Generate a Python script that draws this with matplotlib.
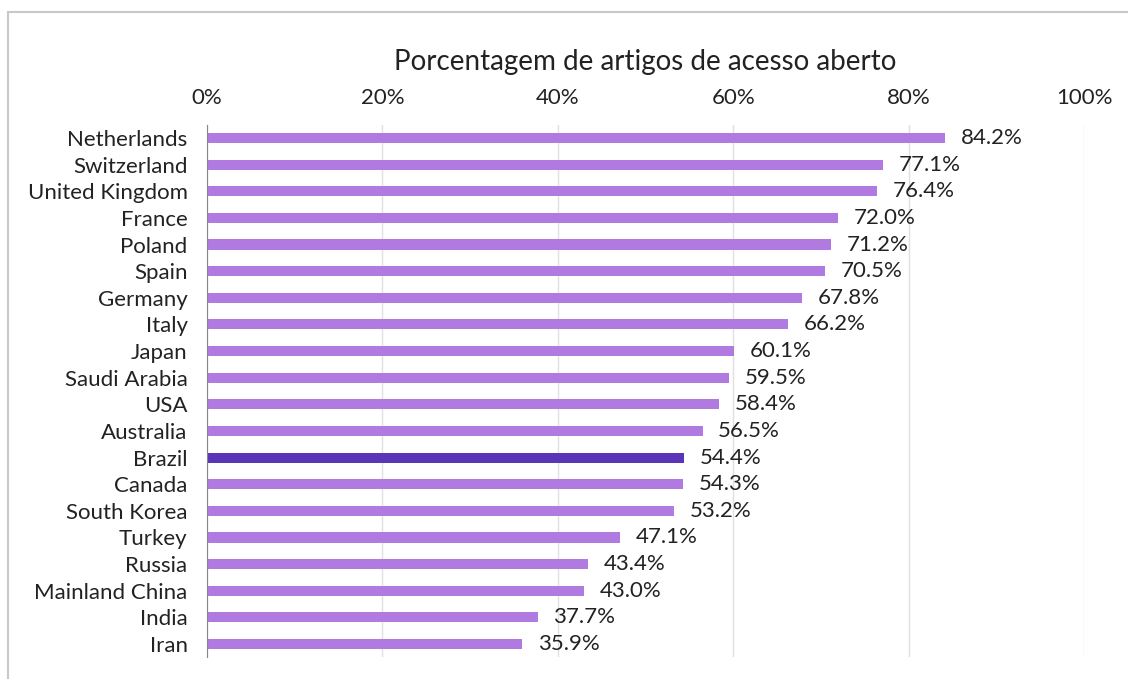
import matplotlib.pyplot as plt
from matplotlib.patches import Rectangle
from matplotlib.ticker import PercentFormatter

countries = ["Netherlands", "Switzerland", "United Kingdom", "France", "Poland",
             "Spain", "Germany", "Italy", "Japan", "Saudi Arabia", "USA",
             "Australia", "Brazil", "Canada", "South Korea", "Turkey", "Russia",
             "Mainland China", "India", "Iran"]
shares = [84.2, 77.1, 76.4, 72.0, 71.2, 70.5, 67.8, 66.2, 60.1, 59.5, 58.4,
          56.5, 54.4, 54.3, 53.2, 47.1, 43.4, 43.0, 37.7, 35.9]
highlight = "Brazil"

plt.rcParams['font.family'] = ['Lato', 'DejaVu Sans']

fig = plt.figure(figsize=(11.28, 6.79), dpi=100)
ax = fig.add_axes([207 / 1128, 1 - 657.3 / 679, 877 / 1128, 532.6 / 679])

# outer frame
fig.patches.append(Rectangle((8 / 1128, -0.1), 1.2, 1 - 12 / 679 + 0.1,
                             transform=fig.transFigure, fill=False,
                             edgecolor="#c8c8c8", linewidth=1.5))

colors = ["#5b35b8" if c == highlight else "#b07ae0" for c in countries]
ypos = range(len(countries))
ax.barh(ypos, shares, height=0.38, color=colors, zorder=3)

for y, v in zip(ypos, shares):
    ax.text(v + 1.8, y, f"{v:.1f}%", va="center", ha="left", fontsize=16,
            color="#222222")

ax.set_yticks(list(ypos))
ax.set_yticklabels(countries, fontsize=16, color="#222222")
ax.set_ylim(len(countries) - 0.5, -0.5)
ax.set_xlim(0, 100)
ax.set_xticks([0, 20, 40, 60, 80, 100])
ax.xaxis.set_major_formatter(PercentFormatter(decimals=0))
ax.xaxis.tick_top()
ax.tick_params(axis="x", length=0, labelsize=16, labelcolor="#222222", pad=12)
ax.tick_params(axis="y", length=0, pad=14)
ax.grid(axis="x", color="#e0e0e0", linewidth=1, zorder=0)

for s in ["top", "right", "bottom"]:
    ax.spines[s].set_visible(False)
ax.spines["left"].set_color("#888888")
ax.spines["left"].set_zorder(4)

fig.text(645 / 1128, 1 - 62 / 679, "Porcentagem de artigos de acesso aberto",
         ha="center", va="center", fontsize=20, color="#222222")

fig.savefig("out.png", dpi=100)
